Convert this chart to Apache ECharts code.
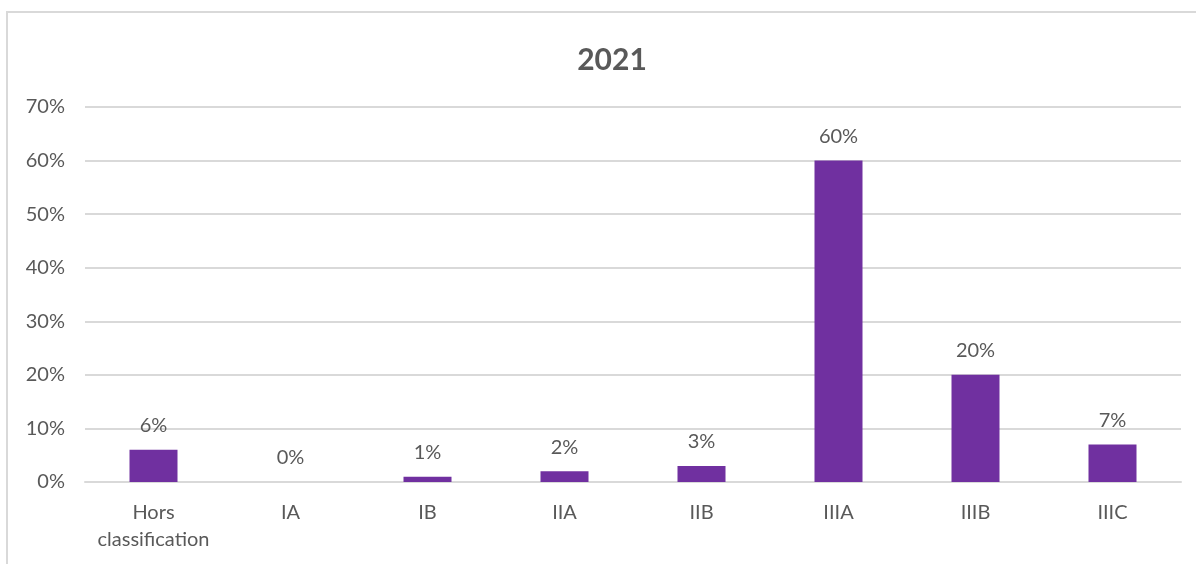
<!DOCTYPE html>
<html>
<head>
<meta charset="utf-8">
<script src="https://cdn.jsdelivr.net/npm/echarts@6/dist/echarts.min.js"></script>
<style>
  html, body { margin: 0; padding: 0; background: #fff; overflow: hidden; }
  .frame {
    position: absolute; left: 6px; top: 11px;
    width: 1300px; height: 700px;
    border: 2px solid #d9d9d9;
  }
  #chart { position: absolute; left: 0; top: 0; width: 1196px; height: 564px; }
</style>
</head>
<body>
<div class="frame"></div>
<div id="chart"></div>
<script>
// categories and shares (percent)
const categories = ['Hors\nclassification', 'IA', 'IB', 'IIA', 'IIB', 'IIIA', 'IIIB', 'IIIC']
const shares = [6, 0, 1, 2, 3, 60, 20, 7]
const titleText = '2021'

const font = 'Lato, "Open Sans", sans-serif'
const myChart = echarts.init(document.getElementById('chart'))
myChart.setOption({
  backgroundColor: 'transparent',
  animation: false,
  title: {
    text: titleText,
    left: 607,
    top: 40,
    textAlign: 'center',
    textStyle: { color: '#595959', fontSize: 30, fontWeight: 'bold', fontFamily: font },
  },
  grid: { left: 85, right: 15, top: 107, bottom: 82 },
  xAxis: {
    type: 'category',
    data: categories,
    axisLine: { lineStyle: { color: '#d9d9d9', width: 2 } },
    axisTick: { show: false },
    axisLabel: {
      color: '#595959', fontSize: 20, fontFamily: font,
      lineHeight: 27, margin: 17, interval: 0,
    },
  },
  yAxis: {
    type: 'value',
    min: 0,
    max: 70,
    interval: 10,
    axisLine: { show: false },
    axisTick: { show: false },
    splitLine: { lineStyle: { color: '#d9d9d9', width: 2 } },
    axisLabel: {
      color: '#595959', fontSize: 20, fontFamily: font, margin: 20,
      formatter: '{value}%',
    },
  },
  series: [
    {
      type: 'bar',
      data: shares,
      barWidth: 48,
      itemStyle: { color: '#7030a0' },
      label: {
        show: true,
        position: 'top',
        distance: 14,
        color: '#595959',
        fontSize: 20,
        fontFamily: font,
        formatter: '{c}%',
      },
    },
  ],
})
</script>
</body>
</html>
